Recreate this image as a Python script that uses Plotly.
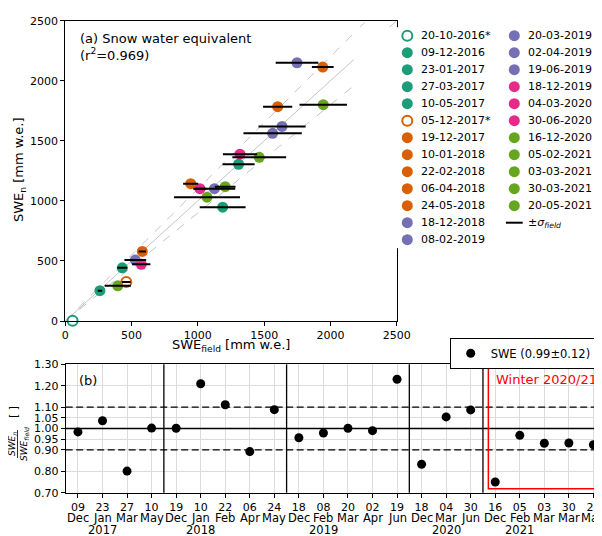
import plotly.graph_objects as go

# ---------------- data ----------------
dates = ["20-10-2016*", "09-12-2016", "23-01-2017", "27-03-2017", "10-05-2017",
         "05-12-2017*", "19-12-2017", "10-01-2018", "22-02-2018", "06-04-2018", "24-05-2018",
         "18-12-2018", "08-02-2019", "20-03-2019", "02-04-2019", "19-06-2019",
         "18-12-2019", "04-03-2020", "30-06-2020",
         "16-12-2020", "05-02-2021", "03-03-2021", "30-03-2021", "20-05-2021"]
swe_field = [55, 261, 430, 1187, 1307,
             460, 581, 946, 1602, 2342, 1942,
             528, 1125, 1564, 1635, 1748,
             573, 1318, 1016,
             396, 1069, 1206, 1463, 1946]
swe_n = [2, 252, 443, 948, 1305,
         325, 579, 1143, 1784, 2089, 2114,
         507, 1102, 1562, 1620, 2150,
         472, 1389, 1102,
         293, 1031, 1118, 1363, 1801]
sigma_field = [0, 17, 38, 173, 121,
               33, 28, 57, 110, 0, 82,
               82, 157, 220, 178, 161,
               69, 129, 50,
               99, 249, 78, 203, 179]
season_of_date = [0, 0, 0, 0, 0, 1, 1, 1, 1, 1, 1, 2, 2, 2, 2, 2, 3, 3, 3, 4, 4, 4, 4, 4]
open_marker = [True, False, False, False, False, True] + [False] * 18
season_colors = ["#1b9e77", "#d95f02", "#7570b3", "#e7298a", "#66a61e"]

# bottom panel
days = ["09", "23", "27", "10", "19", "10", "22", "06", "24", "18", "08", "20", "02", "19",
        "18", "04", "30", "16", "05", "03", "30", "20"]
months = ["Dec", "Jan", "Mar", "May", "Dec", "Jan", "Feb", "Apr", "May", "Dec", "Feb", "Mar",
          "Apr", "Jun", "Dec", "Mar", "Jun", "Dec", "Feb", "Mar", "Mar", "May"]
season_sizes = [4, 5, 5, 3, 5]
season_years = ["2017", "2018", "2019", "2020", "2021"]
ratios = [0.984, 1.036, 0.801, 1.002, 1.001, 1.209, 1.111, 0.892, 1.088, 0.957, 0.979, 1.001,
          0.990, 1.230, 0.833, 1.054, 1.087, 0.750, 0.968, 0.931, 0.932, 0.924]
ratio_label = "SWE (0.99±0.12)"
ratio_ticks = [0.70, 0.80, 0.90, 0.95, 1.00, 1.05, 1.10, 1.20, 1.30]
swe_ticks = [0, 500, 1000, 1500, 2000, 2500]

# ---------------- helpers ----------------
# the page body has an 8 px margin: the figure is sized so that it fills the window exactly
OFF = 8
W, H = 602 - OFF, 536 - OFF
FONT = "DejaVu Sans"


def px(x):
    """window pixel -> paper fraction"""
    return (x - OFF) / W


def py(y):
    return 1 - (y - OFF) / H


colors = [season_colors[s] for s in season_of_date]

fig = go.Figure()

# ---------- top panel: scatter ----------
filled = [i for i in range(len(dates)) if not open_marker[i]]
opened = [i for i in range(len(dates)) if open_marker[i]]
fig.add_trace(go.Scatter(
    x=[swe_field[i] for i in filled], y=[swe_n[i] for i in filled],
    mode="markers", marker=dict(size=11, color=[colors[i] for i in filled], line=dict(width=0)),
    xaxis="x", yaxis="y", cliponaxis=False, showlegend=False, hoverinfo="skip"))
fig.add_trace(go.Scatter(
    x=[swe_field[i] for i in opened], y=[swe_n[i] for i in opened],
    mode="markers", marker=dict(size=10, symbol="circle-open", color=[colors[i] for i in opened],
                                line=dict(width=2)),
    xaxis="x", yaxis="y", cliponaxis=False, showlegend=False, hoverinfo="skip"))
with_err = [i for i in range(len(dates)) if sigma_field[i] > 0]
fig.add_trace(go.Scatter(
    x=[swe_field[i] for i in with_err], y=[swe_n[i] for i in with_err],
    mode="markers", marker=dict(size=1, opacity=0),
    error_x=dict(type="data", array=[sigma_field[i] for i in with_err], color="black",
                 thickness=2, width=0),
    xaxis="x", yaxis="y", showlegend=False, hoverinfo="skip"))

# ---------- custom legend (two columns) ----------
n_rows = 13
leg_col = [i // n_rows for i in range(len(dates))]
leg_row = [i % n_rows for i in range(len(dates))]
fig.add_trace(go.Scatter(
    x=[leg_col[i] for i in filled], y=[leg_row[i] for i in filled], mode="markers",
    marker=dict(size=11, color=[colors[i] for i in filled]),
    xaxis="x3", yaxis="y3", showlegend=False, hoverinfo="skip", cliponaxis=False))
fig.add_trace(go.Scatter(
    x=[leg_col[i] for i in opened], y=[leg_row[i] for i in opened], mode="markers",
    marker=dict(size=10, symbol="circle-open", color=[colors[i] for i in opened], line=dict(width=2)),
    xaxis="x3", yaxis="y3", showlegend=False, hoverinfo="skip", cliponaxis=False))
sig_idx = len(dates)
sig_col, sig_row = sig_idx // n_rows, sig_idx % n_rows
fig.add_trace(go.Scatter(
    x=[sig_col], y=[sig_row], mode="markers",
    marker=dict(size=12, symbol="line-ew", color="black", line=dict(width=2, color="black")),
    xaxis="x3", yaxis="y3", showlegend=False, hoverinfo="skip", cliponaxis=False))

leg_font = dict(family=FONT, size=11, color="black")
annotations = []
for i, d in enumerate(dates):
    annotations.append(dict(x=leg_col[i], y=leg_row[i], xref="x3", yref="y3", text=d,
                            showarrow=False, xanchor="left", yanchor="middle", xshift=12,
                            font=leg_font))
annotations.append(dict(x=sig_col, y=sig_row, xref="x3", yref="y3",
                        text="±<i>σ</i><sub><i>field</i></sub>",
                        showarrow=False, xanchor="left", yanchor="middle", xshift=12,
                        font=leg_font))

# ---------- bottom panel ----------
idx = list(range(len(ratios)))
fig.add_trace(go.Scatter(
    x=idx, y=ratios, mode="markers", marker=dict(size=9, color="black"),
    name=ratio_label, xaxis="x2", yaxis="y2", showlegend=True, hoverinfo="skip"))

shapes = []
# reference lines top
for f, dash in [(1.0, "solid"), (1.1, "dash"), (0.9, "dash")]:
    xe = min(swe_ticks[-1], swe_ticks[-1] / f)
    shapes.append(dict(type="line", xref="x", yref="y", x0=0, y0=0, x1=xe, y1=xe * f,
                       line=dict(color="#c4c4c4", width=1, dash=dash), layer="below"))
# horizontal lines bottom
for v, dash in [(1.0, "solid"), (1.1, "7px,3.5px"), (0.9, "7px,3.5px")]:
    shapes.append(dict(type="line", xref="x2 domain", yref="y2", x0=0, x1=1, y0=v, y1=v,
                       line=dict(color="black", width=1.4, dash=dash)))
# season separators
pos = 0
year_pos = []
for s, n in enumerate(season_sizes):
    first_new = next(k for k in range(pos, pos + n) if months[k] != "Dec")
    year_pos.append(first_new)
    pos += n
    if s < len(season_sizes) - 1:
        shapes.append(dict(type="line", xref="x2", yref="y2 domain", x0=pos - 0.5, x1=pos - 0.5,
                           y0=0, y1=1, line=dict(color="black", width=1.3)))
# winter 2020/21 box
last_start = sum(season_sizes[:-1])
shapes.append(dict(type="rect", xref="x2", yref="y2", x0=last_start - 0.28, x1=last_start + 6,
                   y0=0.719, y1=1.281, line=dict(color="red", width=1.5)))
# fraction bar of the y label
shapes.append(dict(type="line", xref="paper", yref="paper", x0=px(17.5), x1=px(17.5),
                   y0=py(458), y1=py(430), line=dict(color="black", width=0.8)))

lab_font = dict(family=FONT, size=11.5, color="black")
for k, m in enumerate(months):
    annotations.append(dict(x=idx[k], y=py(517.7), xref="x2", yref="paper", text=m,
                            showarrow=False, xanchor="center", yanchor="middle", font=lab_font))
for k, yr in enumerate(season_years):
    annotations.append(dict(x=year_pos[k], y=py(529.5), xref="x2", yref="paper", text=yr,
                            showarrow=False, xanchor="center", yanchor="middle", font=lab_font))

annotations += [
    dict(x=px(78), y=py(29), xref="paper", yref="paper",
         text="(a) Snow water equivalent<br>(r<sup>2</sup>=0.969)", align="left",
         showarrow=False, xanchor="left", yanchor="top",
         font=dict(family=FONT, size=13, color="black")),
    dict(x=px(231), y=py(345), xref="paper", yref="paper",
         text="SWE<sub>field</sub> [mm w.e.]", showarrow=False, xanchor="center",
         yanchor="middle", font=dict(family=FONT, size=13, color="black")),
    dict(x=px(19), y=py(170), xref="paper", yref="paper",
         text="SWE<sub>n</sub> [mm w.e.]", showarrow=False, textangle=-90,
         xanchor="center", yanchor="middle", font=dict(family=FONT, size=13, color="black")),
    dict(x=px(77), y=py(380), xref="paper", yref="paper", text="(b)", showarrow=False,
         xanchor="left", yanchor="middle", font=dict(family=FONT, size=13, color="black")),
    dict(x=last_start - 0.04, y=1.227, xref="x2", yref="y2", text="Winter 2020/21",
         showarrow=False, xanchor="left", yanchor="middle",
         font=dict(family=FONT, size=13, color="red")),
    dict(x=px(12), y=py(444), xref="paper", yref="paper", text="<i>SWE<sub>n</sub></i>",
         showarrow=False, textangle=-90, xanchor="center", yanchor="middle",
         font=dict(family=FONT, size=9, color="black")),
    dict(x=px(24), y=py(444), xref="paper", yref="paper", text="<i>SWE<sub>field</sub></i>",
         showarrow=False, textangle=-90, xanchor="center", yanchor="middle",
         font=dict(family=FONT, size=9, color="black")),
    dict(x=px(13), y=py(412), xref="paper", yref="paper", text="[ ]",
         showarrow=False, textangle=-90, xanchor="center", yanchor="middle",
         font=dict(family=FONT, size=11, color="black")),
]

tickfont = dict(family=FONT, size=11, color="black")
common = dict(ticks="outside", ticklen=4, tickwidth=1, tickcolor="black", showline=True,
              linecolor="black", linewidth=1, zeroline=False, tickfont=tickfont,
              automargin=False, tickangle=0)

fig.update_layout(
    width=W, height=H, margin=dict(l=0, r=0, t=0, b=0, autoexpand=False),
    paper_bgcolor="white", plot_bgcolor="white",
    font=dict(family=FONT, size=11, color="black"),
    xaxis=dict(domain=[px(65.3), px(396.7)], range=[0, 2500], tickvals=swe_ticks,
               mirror=True, showgrid=False, anchor="y", **common),
    yaxis=dict(domain=[py(321), py(20.7)], range=[0, 2500], tickvals=swe_ticks,
               mirror=True, showgrid=False, anchor="x", **common),
    xaxis2=dict(domain=[px(65.7), 1.0], range=[-0.5, 21.35], tickvals=idx, ticktext=days,
                mirror=True, showgrid=True, gridcolor="#dcdcdc", gridwidth=1, anchor="y2", **common),
    yaxis2=dict(domain=[py(492.7), py(364.3)], range=[0.7, 1.3], tickvals=ratio_ticks,
                tickformat=".2f", mirror=False, showgrid=True, gridcolor="#dcdcdc", gridwidth=1,
                anchor="x2", **common),
    xaxis3=dict(domain=[px(353.8), px(567.8)], range=[-0.5, 1.5], visible=False,
                fixedrange=True, anchor="y3", automargin=False),
    yaxis3=dict(domain=[py(248.2), py(27.2)], range=[12.5, -0.5], visible=False,
                fixedrange=True, anchor="x3", automargin=False),
    legend=dict(x=px(596.7), xanchor="right", y=py(337.7), yanchor="top",
                bordercolor="black", borderwidth=1, bgcolor="white",
                font=dict(family=FONT, size=11.5, color="black")),
    shapes=shapes, annotations=annotations,
)

fig.write_html("out.html")
